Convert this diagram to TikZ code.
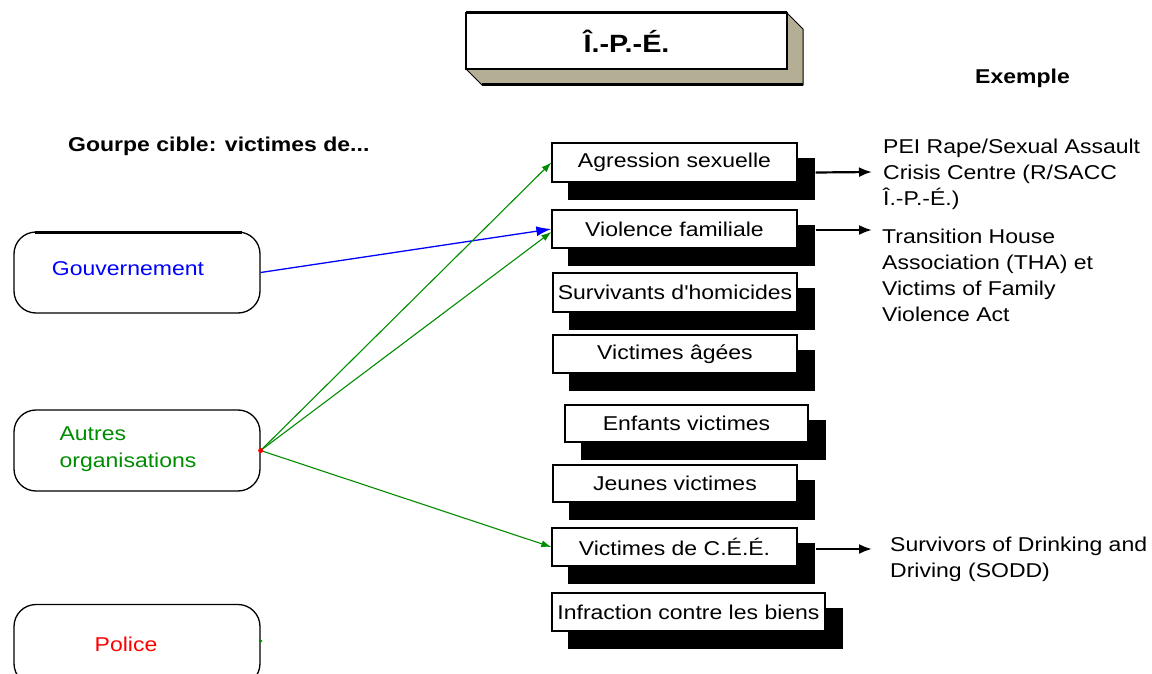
\documentclass[tikz,border=0pt]{standalone}
\usepackage{fontspec}
\setmainfont{Liberation Sans}[FakeStretch=1.15, Ligatures=TeXOff]
\usetikzlibrary{arrows.meta}

\definecolor{slab}{RGB}{180,174,149}
\definecolor{orggreen}{RGB}{0,140,0}

% front box with a solid black drop shadow: name, x1, y1, x2, y2, text
\newcommand\catbox[6]{%
  \fill[black] (#2+16,#3+15) rectangle (#4+18,#5+18);
  \node[catbox, minimum width={(#4-#2)*1pt}, minimum height={(#5-#3)*1pt}]
    (#1) at ({(#2+#4)/2},{(#3+#5)/2}) {#6};
}

\begin{document}
\begin{tikzpicture}[x=1pt,y=-1pt,
  catbox/.style={draw=black, line width=1.3pt, fill=white, inner sep=0pt,
    font=\fontsize{20}{24}\selectfont},
  roundbox/.style={draw=black, line width=1.3pt, fill=white, rounded corners=22pt,
    minimum width=246pt, minimum height=81pt, inner sep=0pt},
  sidetext/.style={font=\fontsize{20}{24}\selectfont, inner sep=0pt},
  notetext/.style={font=\fontsize{20}{26}\selectfont, align=left, inner sep=0pt, anchor=north west},
  headtext/.style={font=\fontsize{20}{24}\selectfont\bfseries, inner sep=0pt, anchor=base west},
  outarrow/.style={draw=black, line width=2.2pt, -{Latex[length=13pt,width=10pt]}},
  greenarrow/.style={draw=orggreen, line width=1.1pt, -{Latex[length=10pt,width=7pt]}},
  bluearrow/.style={draw=blue, line width=1.3pt, -{Latex[length=15pt,width=10pt]}}
]
\clip (0,0) rectangle (1152,674);

% title slab
\filldraw[fill=slab, draw=black, line width=1pt]
  (466,69) -- (482,85) -- (803,85) -- (803,29) -- (787,13) -- (787,69) -- cycle;
\draw[line width=3pt] (482,85) -- (803,85);
\node[draw=black, line width=1.3pt, fill=white, minimum width=321pt, minimum height=56pt,
  inner sep=0pt, font=\fontsize{25}{30}\selectfont\bfseries] (ipe) at (626.5,41) {Î.-P.-É.};
\draw[line width=3pt] (466,13) -- (787,13);

% headings
\node[headtext] (exemple) at (975,84) {Exemple};
\node[headtext] (cible) at (68,152) {Gourpe cible: victimes de...};

% source organisations
\node[roundbox] (gov) at (137,272.5) {};
\draw[line width=3pt] (35,232) -- (242,232);
\node[sidetext, text=blue] (govtext) at (128,269) {Gouvernement};
\node[roundbox] (org) at (137,450.5) {};
\node[sidetext, text=orggreen, align=left, font=\fontsize{20}{27}\selectfont]
  (orgtext) at (128,449) {Autres\\organisations};
\node[roundbox] (pol) at (137,645) {};
\node[sidetext, text=red] (poltext) at (126,644) {Police};

% target groups
\catbox{agr}{552}{143}{797}{182}{Agression sexuelle}
\catbox{vio}{552}{210}{797}{248}{Violence familiale}
\catbox{hom}{553}{273}{797}{312}{Survivants d'homicides}
\catbox{age}{553}{335}{797}{373}{Victimes âgées}
\catbox{enf}{565}{405}{808}{442}{Enfants victimes}
\catbox{jeu}{553}{465}{797}{502}{Jeunes victimes}
\catbox{cee}{552}{528}{797}{566}{Victimes de C.É.É.}
\catbox{inf}{552}{593}{825}{631}{Infraction contre les biens}

% links from organisations to groups
\draw[bluearrow] (gov.east) -- (vio.west);
\draw[greenarrow] (org.east) -- (agr.west);
\draw[greenarrow] (org.east) -- ([yshift=-3pt]vio.west);
\draw[greenarrow] (org.east) -- (cee.west);
\fill[red] (org.east) circle (2.5pt);
\fill[orggreen] ([yshift=4pt]pol.east) circle (1.8pt);

% examples
\coordinate (ex1) at (872,172);
\coordinate (ex2) at (872,230);
\coordinate (ex3) at (872,549);
\draw[outarrow] ([shift={(18,10)}]agr.east) -- (ex1);
\draw[outarrow] ([shift={(18,1)}]vio.east) -- (ex2);
\draw[outarrow] ([shift={(18,2)}]cee.east) -- (ex3);

\node[notetext] (ex1text) at (883,139) {PEI Rape/Sexual Assault\\Crisis Centre (R/SACC\\Î.-P.-É.)};
\node[notetext] (ex2text) at (882,229) {Transition House\\Association (THA) et\\Victims of Family\\Violence Act};
\node[notetext] (ex3text) at (890,537) {Survivors of Drinking and\\Driving (SODD)};
\end{tikzpicture}
\end{document}
